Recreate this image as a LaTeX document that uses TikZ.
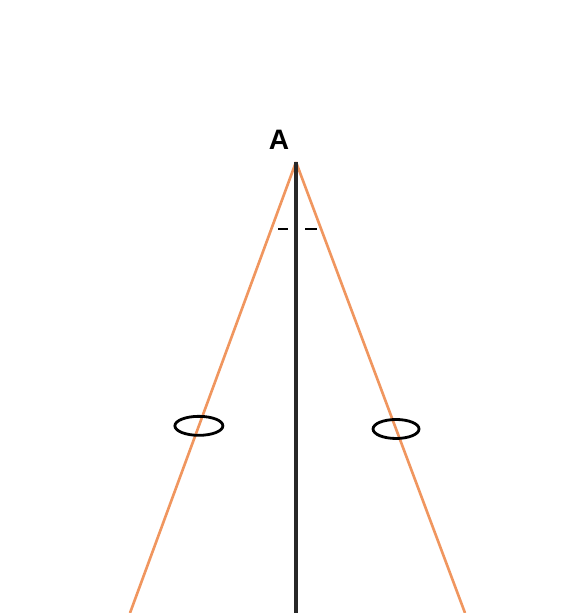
\documentclass[tikz,border=0pt]{standalone}
\usepackage{fontspec}
\setmainfont{Liberation Sans}
\usetikzlibrary{positioning, calc, shapes.geometric}

\definecolor{legorange}{RGB}{240,150,95}
\definecolor{axisgray}{RGB}{40,40,40}

\begin{document}
\begin{tikzpicture}[
    x=0.02cm, y=0.02cm,
    leg/.style={draw=legorange, line width=1.5pt},
    axis/.style={draw=axisgray, line width=2.2pt},
    tickmark/.style={draw=black, line width=1.5pt},
    ringmark/.style={draw=black, ellipse, line width=1.6pt, minimum width=#1, minimum height=0.38cm, inner sep=0pt},
    ringmark/.default=0.96cm,
    vertexlabel/.style={font=\fontsize{16}{16}\selectfont\bfseries, inner sep=0pt}
]

% --- Frame ---
\useasboundingbox (0, 0) rectangle (582, 613);

% --- Points ---
\coordinate (A) at (296, 451);
\coordinate (B) at (130, 0);
\coordinate (C) at (465, 0);
\coordinate (H) at (296, 0);

\node[vertexlabel] (labelA) at (279, 473) {A};

% --- Sides and height ---
\draw[leg] (A) -- node[pos=0.585, ringmark] (ringL) {} (B);
\draw[leg] (A) -- node[pos=0.592, ringmark=0.92cm] (ringR) {} (C);
\draw[axis] (A) -- (H);

% --- Angle marks ---
\draw[tickmark] ($(A)+(-18,-67)$) -- ($(A)+(-8,-67)$);
\draw[tickmark] ($(A)+(9,-67)$) -- ($(A)+(21,-67)$);

\end{tikzpicture}
\end{document}
